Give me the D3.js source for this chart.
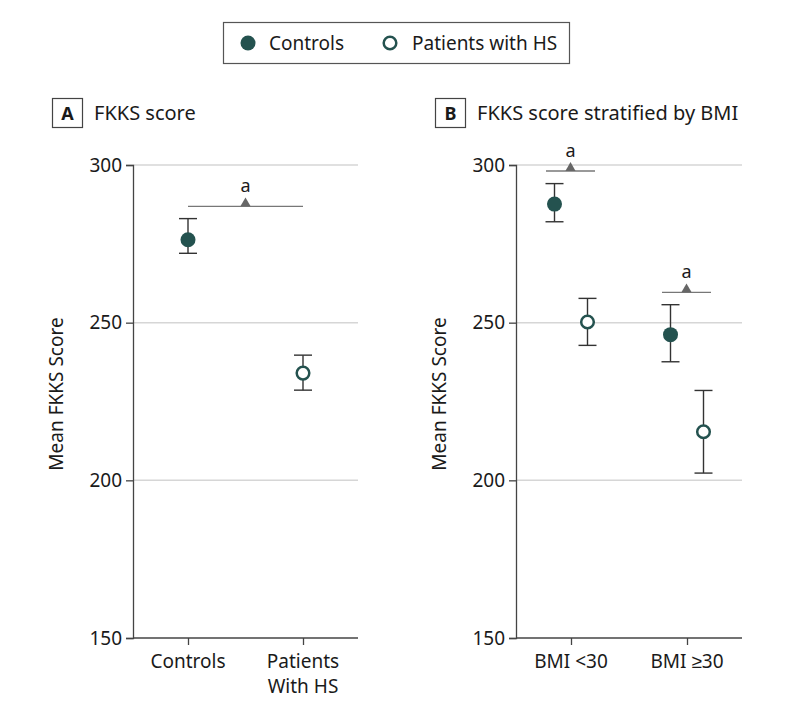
<!DOCTYPE html>
<html>
<head>
<meta charset="utf-8">
<script src="https://cdn.jsdelivr.net/npm/d3@7"></script>
<style>
  body { margin: 0; background: #fff; }
  text { font-family: "Noto Sans", sans-serif; fill: #1a1a1a; }
</style>
</head>
<body>
<svg id="chart" width="794" height="713"></svg>
<script>
// data
var groupsA = ["Controls", "Patients\nWith HS"];
var meanA = [276.3, 234.0];
var lowA = [272.0, 228.6];
var highA = [283.0, 239.7];

var groupsB = ["BMI <30", "BMI \u226530"];
var ctrlMeanB = [287.6, 246.2];
var ctrlLowB = [282.0, 237.6];
var ctrlHighB = [294.1, 255.7];
var hsMeanB = [250.2, 215.4];
var hsLowB = [242.8, 202.3];
var hsHighB = [257.7, 228.5];

var sigA = [286.9];
var sigB = [298.1, 259.6];

var yTicks = [150, 200, 250, 300];
var teal = "#24524f";

var svg = d3.select("#chart");

// legend
var leg = svg.append("g");
leg.append("rect").attr("x", 223.5).attr("y", 22.5).attr("width", 346).attr("height", 41)
    .attr("fill", "none").attr("stroke", "#555").attr("stroke-width", 1.2);
leg.append("circle").attr("cx", 248).attr("cy", 43).attr("r", 7.5).attr("fill", teal);
leg.append("text").attr("x", 269).attr("y", 50).style("font-size", "19px").text("Controls");
leg.append("circle").attr("cx", 390).attr("cy", 43).attr("r", 6.3)
    .attr("fill", "#fff").attr("stroke", teal).attr("stroke-width", 2.5);
leg.append("text").attr("x", 412).attr("y", 50).style("font-size", "19px").text("Patients with HS");

function panel(opts) {
    var y = d3.scaleLinear().domain([150, 300]).range([638, 165]);
    var x = d3.scalePoint().domain(opts.cats).range([opts.c0, opts.c1]);
    var g = svg.append("g");

    // panel title
    g.append("rect").attr("x", opts.bx + 0.5).attr("y", 98.5).attr("width", 30).attr("height", 29)
        .attr("fill", "none").attr("stroke", "#444").attr("stroke-width", 1.2);
    g.append("text").attr("x", opts.bx + 15.5).attr("y", 120).attr("text-anchor", "middle")
        .style("font-size", "18px").style("font-weight", "bold").text(opts.letter);
    g.append("text").attr("x", opts.bx + 42).attr("y", 120)
        .style("font-size", "20px").text(opts.title);

    // grid
    g.selectAll(".grid").data(yTicks.filter(function (d) { return d > 150; })).enter()
        .append("line")
        .attr("x1", opts.left).attr("x2", opts.right)
        .attr("y1", function (d) { return y(d); }).attr("y2", function (d) { return y(d); })
        .attr("stroke", "#d6d6d6").attr("stroke-width", 1.5);

    // y axis
    var ya = g.append("g").attr("transform", "translate(" + opts.left + ",0)")
        .call(d3.axisLeft(y).tickValues(yTicks).tickSize(7).tickPadding(4));
    ya.select(".domain").attr("stroke", "#444").attr("stroke-width", 1.3);
    ya.selectAll(".tick line").attr("stroke", "#444").attr("stroke-width", 1.3);
    ya.selectAll("text").style("font-size", "19px").style("font-family", "Noto Sans").attr("fill", "#1a1a1a");

    // x axis
    var xa = g.append("g").attr("transform", "translate(0,638)")
        .call(d3.axisBottom(x).tickSize(7).tickSizeOuter(0).tickFormat(""));
    xa.select(".domain").attr("d", "M" + opts.left + ",0H" + opts.right)
        .attr("stroke", "#444").attr("stroke-width", 1.3);
    xa.selectAll(".tick line").attr("stroke", "#444").attr("stroke-width", 1.3);
    opts.cats.forEach(function (c) {
        var t = g.append("text").attr("x", x(c)).attr("y", 668).attr("text-anchor", "middle")
            .style("font-size", "19px");
        c.split("\n").forEach(function (s, i) {
            t.append("tspan").attr("x", x(c)).attr("dy", i ? 25 : 0).text(s);
        });
    });

    // y label
    g.append("text").attr("transform", "translate(" + opts.ylabX + ",394) rotate(-90)")
        .attr("text-anchor", "middle").style("font-size", "19px").text("Mean FKKS Score");

    return { g: g, x: x, y: y };
}

function errorBar(g, cx, y, mean, lo, hi, filled) {
    g.append("line").attr("x1", cx).attr("x2", cx).attr("y1", y(hi)).attr("y2", y(lo))
        .attr("stroke", "#333").attr("stroke-width", 1.4);
    [lo, hi].forEach(function (v) {
        g.append("line").attr("x1", cx - 9).attr("x2", cx + 9).attr("y1", y(v)).attr("y2", y(v))
            .attr("stroke", "#333").attr("stroke-width", 1.4);
    });
    if (filled) {
        g.append("circle").attr("cx", cx).attr("cy", y(mean)).attr("r", 7.5).attr("fill", teal);
    } else {
        g.append("circle").attr("cx", cx).attr("cy", y(mean)).attr("r", 6.3)
            .attr("fill", "#fff").attr("stroke", teal).attr("stroke-width", 2.5);
    }
}

function sigBar(g, y, x1, x2, v) {
    var mid = (x1 + x2) / 2, yy = y(v);
    g.append("line").attr("x1", x1).attr("x2", x2).attr("y1", yy).attr("y2", yy)
        .attr("stroke", "#777").attr("stroke-width", 1.3);
    g.append("path").attr("d", d3.symbol().type(d3.symbolTriangle).size(45)())
        .attr("transform", "translate(" + mid + "," + (yy - 3) + ")").attr("fill", "#666");
    g.append("text").attr("x", mid).attr("y", yy - 14).attr("text-anchor", "middle")
        .style("font-size", "18px").text("a");
}

// panel A
var A = panel({ cats: groupsA, c0: 188, c1: 303, left: 133, right: 358, bx: 52, letter: "A",
    title: "FKKS score", ylabX: 63 });
groupsA.forEach(function (c, i) {
    errorBar(A.g, A.x(c), A.y, meanA[i], lowA[i], highA[i], i === 0);
});
sigBar(A.g, A.y, A.x(groupsA[0]), A.x(groupsA[1]), sigA[0]);

// panel B
var B = panel({ cats: groupsB, c0: 571, c1: 687, left: 516, right: 742, bx: 435, letter: "B",
    title: "FKKS score stratified by BMI", ylabX: 446 });
var off = 16.5;
groupsB.forEach(function (c, i) {
    var cx = B.x(c);
    errorBar(B.g, cx - off, B.y, ctrlMeanB[i], ctrlLowB[i], ctrlHighB[i], true);
    errorBar(B.g, cx + off, B.y, hsMeanB[i], hsLowB[i], hsHighB[i], false);
    sigBar(B.g, B.y, cx - 25, cx + 24, sigB[i]);
});
</script>
</body>
</html>
